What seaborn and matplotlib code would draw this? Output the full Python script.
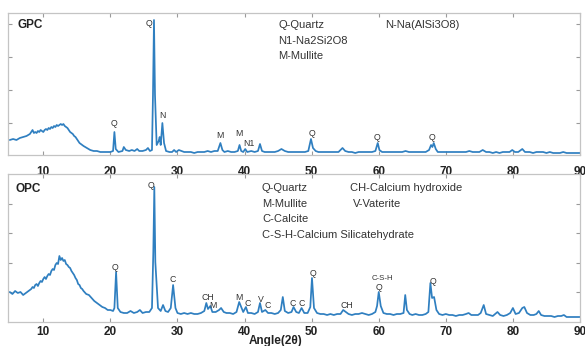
import matplotlib
matplotlib.use("Agg")
import matplotlib.pyplot as plt
import seaborn as sns
import pandas as pd

# ---------------- data ----------------
gpc_angle = [5.0, 5.5, 6.0, 6.5, 7.0, 7.5,
             8.0, 8.2, 8.4, 8.6, 8.8, 9.0, 9.2, 9.4, 9.6, 9.8, 10.0, 10.2, 10.4, 10.6, 10.8,
             11.0, 11.2, 11.4, 11.6, 11.8, 12.0, 12.2, 12.4, 12.6, 12.8, 13.0, 13.2, 13.4, 13.6,
             13.8, 14.0, 14.2, 14.4, 14.6, 14.8, 15.0, 15.2, 15.4, 15.6, 15.8, 16.0,
             16.5, 17.0, 17.5,
             18.0, 18.5, 19.0, 19.5, 20.0, 20.4, 20.6, 20.8, 21.2, 21.8, 22.0, 22.3, 22.8, 23.2,
             23.6, 24.0, 24.3, 24.8, 25.3, 25.6, 25.9, 26.2, 26.35, 26.5, 26.65, 26.9, 27.2,
             27.35, 27.5, 27.75, 28.0, 28.3, 28.8, 29.2, 29.5, 29.8, 30.2, 30.6, 31.0, 31.5,
             32.0, 32.5, 33.0, 33.5, 34.0, 34.5, 35.0, 35.5, 36.0, 36.4, 36.7, 37.0, 37.5, 38.0,
             38.5, 39.0, 39.25, 39.5, 39.8, 40.1, 40.4, 41.0, 41.5, 42.0, 42.3, 42.6, 43.0, 43.5,
             44.0, 44.5, 45.0, 45.5, 46.0, 46.5, 47.0, 47.5, 48.0, 48.5, 49.0, 49.5, 49.9, 50.2,
             50.6, 51.0, 51.5, 52.0, 52.5, 53.0, 53.5, 54.0, 54.6, 55.0, 55.5, 56.0, 56.5, 57.0,
             57.5, 58.0, 58.5, 59.0, 59.5, 59.85, 60.1, 60.5, 61.0, 61.5, 62.0, 62.5, 63.0, 63.5,
             64.0, 64.5, 65.0, 65.5, 66.0, 66.5, 67.0, 67.5, 67.8, 68.0, 68.2, 68.5, 68.8, 69.0,
             69.5, 70.0, 70.5, 71.0, 71.5, 72.0, 72.5, 73.0, 73.5, 74.0, 74.5, 75.0, 75.5, 76.0,
             76.5, 77.0, 77.5, 78.0, 78.5, 79.0, 79.5, 79.9, 80.3, 80.8, 81.4, 81.8, 82.5, 83.0,
             83.5, 84.0, 84.5, 85.0, 85.5, 86.0, 86.5, 87.0, 87.5, 88.0, 88.5, 89.0, 89.5, 90.0]
gpc_intensity = [15, 16, 15, 17, 18, 19,
                 21, 23, 25, 22, 23, 22, 24, 23, 25, 24, 23, 25, 26, 25, 27,
                 26, 28, 27, 29, 28, 30, 29, 30, 31, 30, 31, 29, 28, 27,
                 25, 23, 22, 21, 19, 18, 16, 14, 12, 11, 10, 9,
                 7, 5, 4,
                 4, 3, 3, 3, 3, 4, 23, 6, 3, 4, 8, 5, 4, 5,
                 4, 6, 4, 4, 5, 7, 4, 5, 60, 135, 60, 10, 14,
                 18, 10, 32, 12, 4, 3, 3, 5, 3, 5, 4, 3, 3,
                 3, 2, 3, 3, 3, 4, 3, 4, 4, 12, 5, 3, 4, 3,
                 3, 4, 10, 4, 3, 6, 3, 4, 3, 4, 11, 4, 3, 3,
                 3, 3, 4, 6, 4, 3, 3, 3, 3, 3, 3, 4, 16, 7,
                 4, 3, 3, 3, 3, 3, 3, 3, 7, 4, 3, 3, 2, 3,
                 3, 3, 3, 3, 4, 12, 5, 3, 3, 3, 3, 3, 3, 3,
                 4, 3, 3, 3, 3, 3, 3, 5, 10, 8, 12, 6, 3, 3,
                 3, 3, 3, 3, 3, 3, 3, 3, 4, 3, 3, 3, 5, 3,
                 3, 2, 3, 2, 3, 3, 3, 5, 3, 3, 6, 3, 3, 2,
                 3, 3, 3, 2, 3, 2, 2, 2, 3, 2, 2, 2, 2, 2]

opc_angle = [5.0, 5.4, 5.8, 6.2, 6.6, 7.0, 7.4, 7.8,
             8.2, 8.4, 8.6, 8.8, 9.0, 9.2, 9.4, 9.6, 9.8, 10.0, 10.2, 10.4, 10.6, 10.8,
             11.0, 11.2, 11.4, 11.6, 11.8, 12.0, 12.2, 12.4, 12.6, 12.8, 13.0, 13.2, 13.4, 13.6,
             13.8, 14.0, 14.2, 14.4, 14.6, 14.8, 15.0, 15.2, 15.4, 15.6, 15.8, 16.0,
             16.4, 16.8, 17.2, 17.6, 18.0, 18.4, 18.8, 19.2, 19.6, 20.0, 20.4, 20.6,
             20.85, 21.1, 21.5, 22.0, 22.5, 23.0, 23.5, 24.0, 24.4, 24.8, 25.3, 25.8, 26.2,
             26.4, 26.55, 26.7, 27.1, 27.5, 27.85, 28.2, 28.6, 29.0, 29.35, 29.7, 30.0, 30.5,
             31.0, 31.5, 32.0, 32.5, 33.0, 33.5, 34.0, 34.3, 34.55, 34.9, 35.2, 35.7, 36.2, 36.5,
             36.9, 37.3, 37.8, 38.3, 38.8, 39.2, 39.5, 39.8, 40.2, 40.5, 41.0, 41.5, 42.0, 42.3,
             42.6, 43.1, 43.5, 44.0, 44.5, 45.0, 45.4, 45.7, 46.0, 46.5, 47.0, 47.3, 47.7, 48.1,
             48.5, 48.9, 49.4, 49.8, 50.05, 50.35, 50.8, 51.3, 51.8, 52.3, 52.8, 53.3, 53.8, 54.3,
             54.7, 55.1, 55.5, 56.0, 56.5, 57.0, 57.5, 58.0, 58.5, 59.0, 59.5, 59.75, 60.0, 60.3,
             60.7, 61.2, 61.7, 62.2, 62.7, 63.2, 63.7, 63.95, 64.2, 64.6, 65.0, 65.5, 66.0, 66.5,
             67.0, 67.4, 67.7, 67.95, 68.25, 68.6, 69.0, 69.5, 70.0, 70.5, 71.0, 71.5, 72.0, 72.5,
             73.0, 73.4, 73.8, 74.3, 74.8, 75.2, 75.65, 76.0, 76.5, 77.0, 77.7, 78.1, 78.6, 79.1,
             79.6, 80.0, 80.4, 80.9, 81.4, 81.7, 82.1, 82.6, 83.1, 83.5, 83.85, 84.2, 84.7, 85.2,
             85.7, 86.2, 86.7, 87.2, 87.6, 88.0, 88.5, 89.0, 89.5, 90.0]
opc_intensity = [30, 28, 31, 29, 30, 27, 29, 31,
                 33, 35, 34, 37, 38, 36, 39, 41, 40, 43, 45, 43, 46, 48,
                 47, 51, 53, 52, 57, 59, 58, 66, 62, 64, 61, 62, 58, 57,
                 55, 54, 51, 49, 47, 44, 42, 38, 37, 34, 33, 31,
                 28, 27, 24, 21, 19, 17, 15, 14, 12, 12, 11, 14,
                 50, 14, 10, 9, 9, 11, 9, 10, 12, 9, 10, 10, 14,
                 70, 135, 60, 14, 11, 17, 11, 10, 14, 37, 14, 9, 8,
                 9, 8, 9, 8, 8, 9, 11, 19, 13, 16, 10, 10, 12, 14,
                 10, 9, 9, 8, 10, 20, 15, 10, 15, 9, 9, 8, 10, 19,
                 10, 12, 9, 9, 8, 9, 12, 25, 11, 9, 10, 15, 10, 9,
                 14, 9, 9, 15, 44, 14, 9, 8, 8, 7, 8, 7, 8, 8,
                 12, 10, 8, 7, 8, 8, 9, 8, 7, 8, 10, 16, 30, 16,
                 9, 8, 8, 7, 8, 8, 9, 27, 12, 8, 7, 8, 7, 7,
                 8, 10, 39, 24, 25, 12, 8, 7, 8, 7, 7, 6, 7, 7,
                 8, 9, 7, 7, 7, 9, 17, 8, 7, 6, 10, 7, 6, 7,
                 9, 14, 8, 9, 14, 15, 9, 7, 7, 8, 11, 7, 6, 6,
                 6, 5, 6, 6, 7, 5, 5, 5, 5, 5]

# peak annotations: label, angle, height
gpc_peak_labels = ["Q", "Q", "N", "M", "M", "N1", "Q", "Q", "Q"]
gpc_peak_x = [20.6, 25.7, 27.8, 36.4, 39.2, 40.6, 50.0, 59.8, 67.9]
gpc_peak_y = [31, 131, 40, 19, 22, 11, 22, 18, 17]

opc_peak_labels = ["Q", "Q", "C", "CH", "M", "M", "C", "V", "C", "C", "C", "Q", "CH", "C-S-H", "Q", "Q"]
opc_peak_x = [20.7, 26.0, 29.3, 34.5, 35.3, 39.2, 40.4, 42.4, 43.4, 47.2, 48.5, 50.2, 55.2, 60.6, 60.1, 68.1]
opc_peak_y = [55, 137, 43, 25, 16, 25, 19, 22, 16, 18, 19, 48, 16, 43, 35, 40]

gpc_legend = ["Q-Quartz", "N1-Na2Si2O8", "M-Mullite"]
gpc_legend2 = ["N-Na(AlSi3O8)"]
opc_legend = ["Q-Quartz", "M-Mullite", "C-Calcite", "C-S-H-Calcium Silicatehydrate"]
opc_legend2 = ["CH-Calcium hydroxide", "V-Vaterite"]

x_ticks = [10, 20, 30, 40, 50, 60, 70, 80, 90]

# ---------------- plotting ----------------
sns.set_style("white")
plt.rcParams['font.family'] = ['Liberation Sans', 'DejaVu Sans']

W, H = 585, 346
fig = plt.figure(figsize=(W / 100, H / 100), dpi=100)
ax1 = fig.add_axes([8 / W, (H - 155) / H, 572 / W, 142 / H])
ax2 = fig.add_axes([8 / W, (H - 322) / H, 572 / W, 148 / H])

line_color = "#2f7fc0"
spine_color = "#c4c4c4"
text_color = "#333333"

gpc_df = pd.DataFrame({"angle": gpc_angle, "intensity": gpc_intensity})
opc_df = pd.DataFrame({"angle": opc_angle, "intensity": opc_intensity})

sns.lineplot(data=gpc_df, x="angle", y="intensity", ax=ax1, color=line_color, linewidth=1.25)
sns.lineplot(data=opc_df, x="angle", y="intensity", ax=ax2, color=line_color, linewidth=1.25)

def style(ax, ylim, yticks, pad):
    ax.set_xlim(4.74, 90)
    ax.set_ylim(*ylim)
    ax.set_xticks(x_ticks)
    ax.set_yticks(yticks)
    ax.set_yticklabels([])
    ax.set_xlabel("")
    ax.set_ylabel("")
    for s in ax.spines.values():
        s.set_color(spine_color)
        s.set_linewidth(0.9)
        s.set_visible(True)
    ax.tick_params(axis="both", direction="in", length=3, width=0.8, color="#9a9a9a",
                   top=True, right=True, bottom=True, left=True)
    ax.tick_params(axis="x", pad=pad, labelsize=8.5, labelcolor="#222222")
    for lab in ax.get_xticklabels():
        lab.set_fontweight("bold")

style(ax1, (0, 142), [32, 65, 98, 131], 8)
style(ax2, (0, 148), [30, 59.5, 89, 118.5], 3)

# panel titles
ax1.text(6.1, 130, "GPC", fontsize=8.5, fontweight="bold", color="#222222", va="center", ha="left")
ax2.text(5.9, 133, "OPC", fontsize=8.5, fontweight="bold", color="#222222", va="center", ha="left")

# legend texts
for i, t in enumerate(gpc_legend):
    ax1.text(45.0, 130 - i * 15.5, t, fontsize=8, color=text_color, va="center", ha="left")
for i, t in enumerate(gpc_legend2):
    ax1.text(60.9, 130 - i * 15.5, t, fontsize=8, color=text_color, va="center", ha="left")
for i, t in enumerate(opc_legend):
    ax2.text(42.6, 134 - i * 15.7, t, fontsize=8, color=text_color, va="center", ha="left")
for i, t in enumerate(opc_legend2):
    ax2.text(55.7 + i * 0.4, 134 - i * 15.7, t, fontsize=8, color=text_color, va="center", ha="left")

# peak labels
for t, x, y in zip(gpc_peak_labels, gpc_peak_x, gpc_peak_y):
    ax1.text(x, y, t, fontsize=6.3, color=text_color, va="center", ha="center")
for t, x, y in zip(opc_peak_labels, opc_peak_x, opc_peak_y):
    ax2.text(x, y, t, fontsize=6.3 if t != "C-S-H" else 5.6, color=text_color, va="center", ha="center")

fig.text(276 / W, 1 - 341 / H, "Angle(2θ)", fontsize=8.5, fontweight="bold", color="#222222",
         ha="center", va="center")

fig.savefig("out.png", dpi=100)
